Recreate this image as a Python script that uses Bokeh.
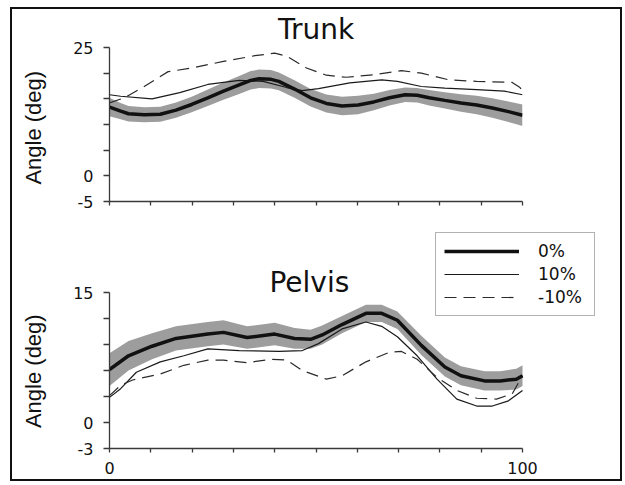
import math
from bokeh.plotting import figure
from bokeh.layouts import column, row
from bokeh.models import Legend, LegendItem, FixedTicker, Range1d, Label
from bokeh.embed import file_html
from bokeh.resources import INLINE

# ---------------- data (gait cycle %, angle in deg) ----------------
trunk_x0 = [0, 2.7, 4.6, 8.4, 12.3, 16.1, 19.9, 23.8, 27.6, 31.4, 34.2, 36.2, 39.1, 41.0,
            44.8, 48.7, 52.5, 56.3, 60.2, 64.0, 67.8, 71.6, 74.5, 77.4, 81.2, 85.1, 88.9,
            92.7, 96.6, 100]
trunk_y0 = [13.4, 12.6, 12.1, 11.9, 12.0, 12.8, 13.9, 15.2, 16.5, 17.7, 18.6, 18.9, 18.8, 18.4,
            16.9, 15.2, 14.1, 13.6, 13.8, 14.4, 15.2, 15.8, 15.7, 15.2, 14.7, 14.2, 13.8,
            13.2, 12.5, 11.8]
trunk_sd0 = [1.8, 1.6, 1.5, 1.45, 1.45, 1.5, 1.5, 1.6, 1.7, 1.75, 1.8, 1.8, 1.8, 1.75,
             1.7, 1.7, 1.75, 1.8, 1.8, 1.6, 1.5, 1.4, 1.4, 1.5, 1.6, 1.7, 1.8,
             1.9, 2.0, 2.1]

trunk_xp = [0, 2.7, 10.3, 17.0, 23.8, 31.4, 37.2, 42.9, 46.7, 50.6, 58.2, 65.9, 69.7, 75.5,
            81.2, 88.9, 95.6, 100]
trunk_yp = [15.8, 15.5, 15.0, 16.2, 17.8, 18.6, 18.4, 17.2, 16.6, 17.0, 18.1, 18.7, 18.4, 17.4,
            17.1, 16.8, 16.5, 15.8]

trunk_xm = [0, 3.6, 8.4, 14.2, 19.9, 27.6, 35.2, 40.0, 42.9, 47.7, 52.5, 57.3, 64.0, 70.7,
            75.5, 82.2, 88.9, 97.5, 99.4, 100]
trunk_ym = [14.2, 15.2, 17.4, 20.3, 21.0, 22.3, 23.4, 23.9, 23.3, 21.0, 19.6, 19.2, 19.7, 20.5,
            20.0, 18.7, 18.4, 18.2, 17.2, 16.5]

pelvis_x0 = [0, 4.6, 10.3, 16.1, 23.8, 27.6, 33.3, 40.0, 44.8, 48.7, 51.5, 56.3, 62.1, 65.9,
             69.7, 75.5, 81.2, 85.1, 90.8, 94.6, 98.5, 100]
pelvis_y0 = [6.1, 7.7, 8.8, 9.7, 10.2, 10.4, 9.8, 10.2, 9.7, 9.6, 10.1, 11.3, 12.6, 12.6,
             11.8, 8.9, 6.4, 5.4, 4.8, 4.8, 5.0, 5.4]
pelvis_sd0 = [1.9, 1.7, 1.5, 1.4, 1.4, 1.4, 1.3, 1.3, 1.2, 1.1, 1.1, 1.0, 1.0, 1.0,
              1.0, 1.1, 1.1, 1.1, 1.1, 1.1, 1.2, 1.2]

pelvis_xp = [0, 2.7, 6.5, 12.3, 18.0, 23.8, 31.4, 41.0, 46.7, 50.6, 56.3, 62.1, 65.9, 69.7,
             74.5, 79.3, 84.1, 88.9, 92.7, 96.6, 100]
pelvis_yp = [2.9, 3.9, 5.8, 7.0, 7.7, 8.5, 8.3, 8.2, 8.3, 9.1, 10.8, 11.6, 11.1, 9.9,
             7.7, 5.0, 2.7, 1.9, 1.9, 2.5, 3.7]

pelvis_xm = [0, 2.7, 5.6, 12.3, 18.0, 23.8, 27.6, 33.3, 39.1, 42.9, 46.7, 52.5, 56.3, 62.1,
             67.8, 70.7, 74.5, 79.3, 84.1, 88.9, 93.7, 97.5, 100]
pelvis_ym = [3.1, 4.3, 4.9, 5.6, 6.6, 7.2, 7.2, 6.9, 7.3, 7.2, 6.0, 5.0, 5.4, 7.0,
             8.1, 8.2, 7.3, 5.2, 3.7, 2.8, 2.7, 3.3, 5.4]

x_ticks = [0, 10, 20, 30, 40, 50, 60, 70, 80, 90, 100]
trunk_ticks = [-5, 0, 5, 10, 15, 20, 25]
trunk_tick_labels = ["-5", "0", "", "", "", "", "25"]
pelvis_ticks = [-3, 0, 3, 6, 9, 12, 15]
pelvis_tick_labels = ["-3", "0", "", "", "", "", "15"]
pelvis_x_labels = ["0", "", "", "", "", "", "", "", "", "", "100"]

series_labels = ["0%", "10%", "-10%"]
titles = ["Trunk", "Pelvis"]
y_title = "Angle (deg)"

FONT = "DejaVu Sans"
AX = "#3a3a3a"
LABW = 55          # width of the strip holding the rotated axis title
MAINW = 608 - LABW


def main_panel(height, top, bottom, right, xr, yr, ybounds, yticks, ylabels, xlabels):
    p = figure(width=MAINW, height=height, x_range=Range1d(*xr), y_range=Range1d(*yr),
               output_backend="svg", toolbar_location=None,
               min_border_left=42, min_border_right=right,
               min_border_top=top, min_border_bottom=bottom)
    p.background_fill_color = "white"
    p.border_fill_color = "white"
    p.outline_line_color = None
    p.xgrid.visible = False
    p.ygrid.visible = False

    xa = p.xaxis[0]
    xa.ticker = FixedTicker(ticks=x_ticks)
    xa.bounds = (0, 100)
    xa.major_label_overrides = {t: l for t, l in zip(x_ticks, xlabels)}
    xa.major_tick_in = 0
    xa.major_tick_out = 4
    xa.minor_tick_line_color = None
    xa.axis_line_color = AX
    xa.axis_line_width = 1.3
    xa.major_tick_line_color = AX
    xa.major_tick_line_width = 1.3
    xa.major_label_text_font = FONT
    xa.major_label_text_font_size = "16px"
    xa.major_label_text_color = "#111"
    xa.major_label_standoff = 9

    ya = p.yaxis[0]
    ya.ticker = FixedTicker(ticks=yticks)
    ya.bounds = ybounds
    ya.major_label_overrides = {t: l for t, l in zip(yticks, ylabels)}
    ya.major_tick_in = 0
    ya.major_tick_out = 6
    ya.minor_tick_line_color = None
    ya.axis_line_color = AX
    ya.axis_line_width = 1.3
    ya.major_tick_line_color = AX
    ya.major_tick_line_width = 1.3
    ya.major_label_text_font = FONT
    ya.major_label_text_font_size = "16px"
    ya.major_label_text_color = "#111"
    ya.major_label_standoff = 10
    return p


def label_strip(height, cy):
    f = figure(width=LABW, height=height, x_range=Range1d(0, LABW), y_range=Range1d(0, height),
               output_backend="svg", toolbar_location=None,
               x_axis_location=None, y_axis_location=None,
               min_border_left=0, min_border_right=0, min_border_top=0, min_border_bottom=0)
    f.background_fill_color = "white"
    f.border_fill_color = "white"
    f.outline_line_color = None
    f.xgrid.visible = False
    f.ygrid.visible = False
    f.add_layout(Label(x=21, y=height - cy, text=y_title, angle=math.pi / 2,
                       text_align="center", text_baseline="middle",
                       text_font="Liberation Sans", text_font_size="22px", text_color="#111"))
    return f


def draw(p, x0, y0, sd0, xp, yp, xm, ym):
    lower = [a - s for a, s in zip(y0, sd0)]
    upper = [a + s for a, s in zip(y0, sd0)]
    p.varea(x=x0, y1=lower, y2=upper, fill_color="#9d9d9d")
    r_p = p.line(xp, yp, line_color="#1a1a1a", line_width=1.2)
    r_m = p.line(xm, ym, line_color="#2a2a2a", line_width=1.2, line_dash="12 7")
    r_0 = p.line(x0, y0, line_color="#111111", line_width=3.5)
    return r_0, r_p, r_m


# ---- Trunk ----
p1 = main_panel(215, 36, 23, 98, (0, 100), (-5, 25), (-5, 25), trunk_ticks, trunk_tick_labels,
                [""] * len(x_ticks))
p1.title.text = titles[0]
p1.title.align = "center"
p1.title.text_font = FONT
p1.title.text_font_size = "28px"
p1.title.text_font_style = "normal"
p1.title.text_color = "#111"
p1.title.standoff = 3
draw(p1, trunk_x0, trunk_y0, trunk_sd0, trunk_xp, trunk_yp, trunk_xm, trunk_ym)
l1 = label_strip(215, 112)

# ---- Pelvis: frame reaches the top and right edges so the legend is not clipped ----
px_per_x = 413 / 100
p2 = main_panel(255, 0, 31, 0, (0, 511 / px_per_x), (-3, 15 + 68 * 18 / 156), (-3, 15),
                pelvis_ticks, pelvis_tick_labels, pelvis_x_labels)
r0, rp, rm = draw(p2, pelvis_x0, pelvis_y0, pelvis_sd0, pelvis_xp, pelvis_yp, pelvis_xm, pelvis_ym)
p2.add_layout(Label(x=48.4, y=15 + 10.5 * 18 / 156, text=titles[1], text_align="center",
                    text_baseline="alphabetic", text_font=FONT, text_font_size="28px",
                    text_color="#111"))
l2 = label_strip(255, 167)

legend = Legend(items=[LegendItem(label=series_labels[0], renderers=[r0]),
                       LegendItem(label=series_labels[1], renderers=[rp]),
                       LegendItem(label=series_labels[2], renderers=[rm])],
                location=(326, 132))
legend.border_line_color = "#666666"
legend.border_line_width = 1.5
legend.background_fill_color = "white"
legend.background_fill_alpha = 1.0
legend.padding = 8
legend.spacing = 3
legend.margin = 0
legend.glyph_width = 75
legend.glyph_height = 20
legend.label_height = 20
legend.label_width = 48
legend.label_standoff = 19
legend.label_text_font = FONT
legend.label_text_font_size = "17px"
legend.label_text_color = "#111"
p2.add_layout(legend)

layout = column(row(l1, p1, spacing=0), row(l2, p2, spacing=0), spacing=0,
                styles={"border": "2.5px solid #111", "margin-left": "10px", "margin-top": "7px"})

open("out.html", "w").write(file_html(layout, INLINE))
